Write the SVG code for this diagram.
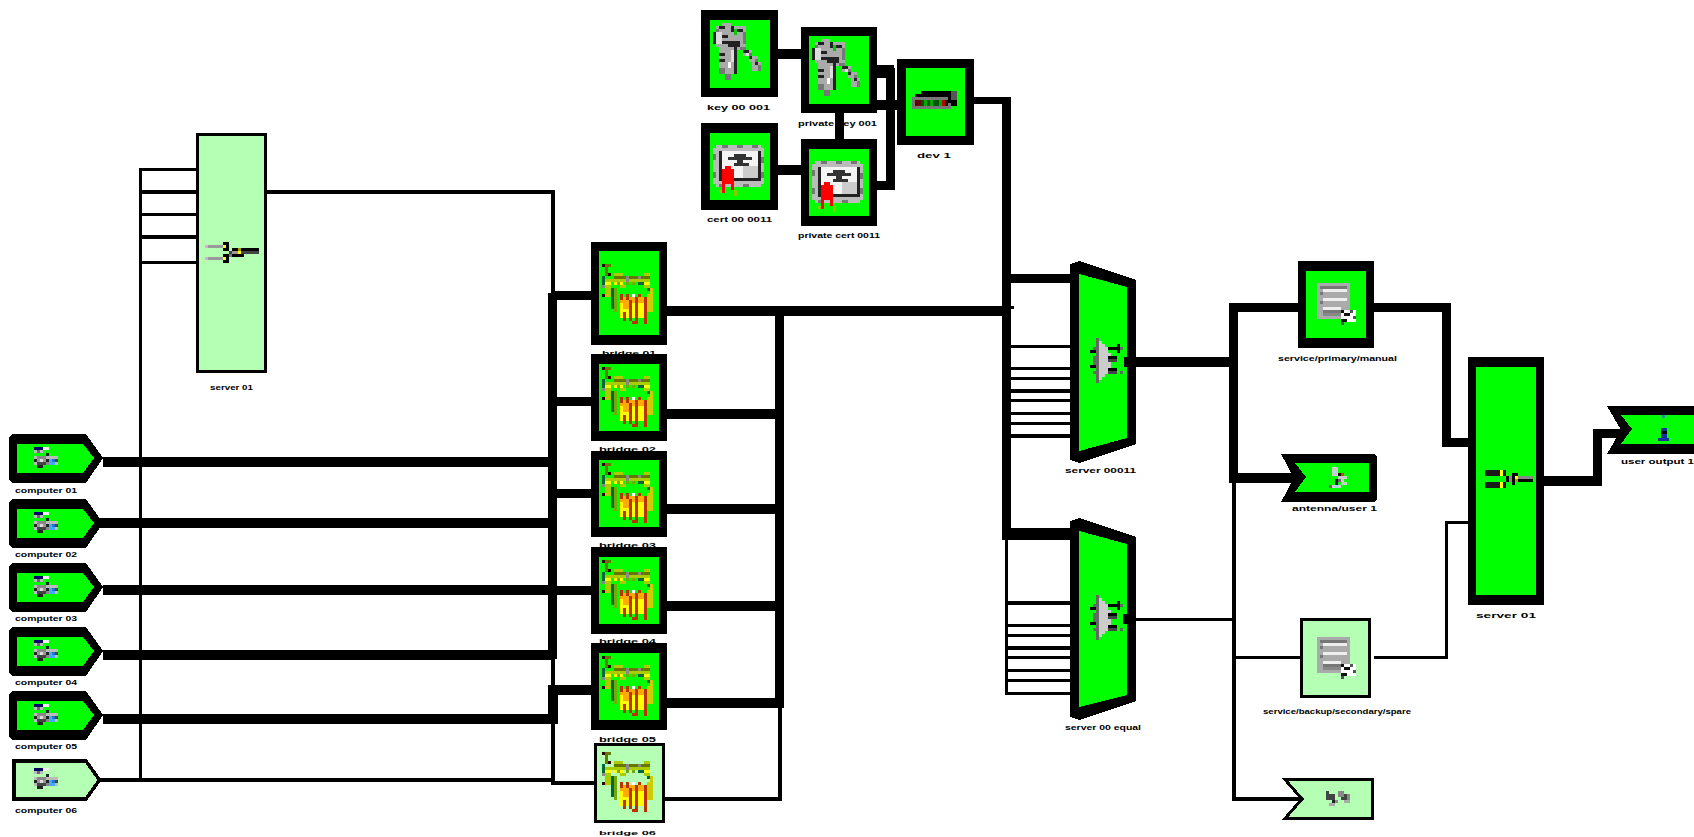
<svg xmlns="http://www.w3.org/2000/svg" width="1694" height="837" viewBox="0 0 1694 837">
<style>
svg{shape-rendering:crispEdges}
.k{fill:#000}.g{fill:#0f0}.l{fill:#b4ffb4;stroke:#000}
.c path{fill:none;stroke:#000;stroke-linejoin:miter}
.w10{stroke-width:10}.w9{stroke-width:9}.w4{stroke-width:4}.w3{stroke-width:3}
text{font-family:"Liberation Sans",Arial,sans-serif;font-weight:700;font-size:8px;fill:#000}
</style>
<defs>
<g id="pent"><polygon class="k" points="9,437 12,434 86,434 103,458 86,483 12,483 9,480"/><polygon class="g" points="17,444 83,444 94,458 83,473 17,473"/></g>
<g id="icCam"><g transform="scale(3)">
<path fill="#006" d="M0 0h3v1H0z"/><path fill="#eee" d="M3 0h2v1H3z"/><path fill="#bbb" d="M0 1h1v1H0zM2 1h1v1H2zM0 3h8v1H0zM0 5h1v1H0zM7 4h1v2H7z"/><path fill="#667" d="M1 1h1v1H1z"/>
<path fill="#222" d="M4 2h1v1H4zM0 4h1v1H0zM4 4h1v1H4zM1 6h2v1H1z"/><path fill="#888" d="M1 3h3v1H1zM4 5h1v1H4z"/><path fill="#ddd" d="M2 4h1v1H2z"/><path fill="#999" d="M1 4h1v1H1zM3 4h1v1H3z"/><path fill="#444" d="M1 5h3v1H1zM7 4h1v1H7z"/><path fill="#4af" d="M5 4h2v2H5z"/><path fill="#27c" d="M6 4h1v1H6z"/>
</g></g>
<g id="icBridge"><g transform="scale(3)">
<path fill="#300" d="M0 0h1v1H0zM2 3h1v1H2zM0 10h1v1H0z"/><path fill="#670" d="M1 0h2v1H1zM1 1h1v3H1zM4 4h12v1H4z"/><path fill="#ac0" d="M4 3h3v1H4zM14 3h2v1h-2zM1 5h15v1H1zM1 7h2v4H1zM6 7h2v1H6zM14 7h2v1h-2z"/><path fill="#ff0" d="M1 6h2v1H1zM4 6h3v1H4zM14 6h2v1h-2z"/><path fill="#064" d="M0 4h1v3H0zM3 8h1v7H3zM15 8h1v1h-1zM12 6h2v1h-2z"/><path fill="#888" d="M0 7h1v1H0zM8 4h1v2H8zM12 4h1v1h-1z"/><path fill="#7a0" d="M4 8h1v8H4zM5 6h1v1H5zM8 6h1v1H8zM10 6h1v1h-1z"/>
<path fill="#cc0" d="M16 8h1v8h-1zM15 10h1v6h-1z"/><path fill="#ff0" d="M6 11h8v7H6zM7 18h1v1H7z"/><path fill="#fa0" d="M6 11h8v2H6zM7 13h2v2H7z"/><path fill="#b30" d="M6 10h1v2H6zM8 10h1v2H8zM7 16h1v3H7zM9 12h1v7H9zM11 11h1v9h-1zM10 19h1v1h-1zM14 11h1v9h-1zM12 10h1v1h-1z"/><path fill="#fff" d="M10 10h1v1h-1z"/>
</g></g>
<g id="icForkL"><g transform="scale(3)">
<path fill="#e8a0e8" d="M0 1h1v1H0zM0 5h1v1H0z"/><path fill="#999" d="M1 1h5v1H1zM1 5h5v1H1zM9 3h2v1H9z"/><path fill="#000" d="M6 0h2v1H6zM7 1h1v2H7zM6 2h2v1H6zM6 4h2v1H6zM7 5h1v2H7zM6 6h2v1H6zM9 2h9v1H9zM9 4h4v1H9z"/><path fill="#ff0" d="M6 1h1v1H6zM6 5h1v1H6zM11 3h1v1h-1z"/><path fill="#a90" d="M11 2h1v1h-1z"/><path fill="#444" d="M12 3h6v1h-6zM8 3h1v1H8z"/><path fill="#777" d="M8 4h1v1H8z"/>
</g></g>
<g id="icForkG"><g transform="scale(3)">
<path fill="#1a1a1a" d="M0 0h5v2H0zM0 4h5v2H0zM6 0h1v2H6zM6 4h1v2H6z"/><path fill="#ff0" d="M5 0h1v2H5zM5 4h1v2H5z"/><path fill="#000" d="M7 2h1v2H7zM9 1h2v1H9zM9 2h1v3H9zM11 3h5v1h-5z"/><path fill="#888" d="M8 2h1v2H8zM11 2h5v1h-5z"/><path fill="#ff0" d="M10 2h1v1h-1z"/><path fill="#a90" d="M10 3h1v1h-1z"/>
</g></g>
<g id="icKey"><g transform="scale(3)">
<path fill="#aaa" d="M3 0h3v1H3zM1 1h10v7H1zM2 8h6v9H2zM8 7h3v2H8zM10 9h3v2h-3zM12 11h3v2h-3zM13 13h3v3h-3z"/><path fill="#777" d="M1 2h1v4H1zM10 3h1v4h-1zM9 8h2v1H9zM12 10h1v1h-1zM14 12h1v1h-1zM15 14h1v2h-1zM2 15h2v2H2zM4 17h2v2H4z"/><path fill="#222" d="M0 3h1v4H0zM2 1h2v1H2zM6 1h1v2H6zM8 2h2v1H8zM3 4h2v1H3zM5 6h4v2H5zM7 8h1v9H7zM3 6h2v1H3zM2 12h2v1H2zM2 10h2v1H2zM10 9h2v1h-2zM12 11h1v1h-1zM14 13h1v1h-1z"/><path fill="#ddd" d="M1 3h2v4H1zM6 9h1v4H6zM11 10h1v1h-1z"/><path fill="#0c0" d="M7 2h1v2H7z"/><path fill="#fff" d="M5 13h1v2H5z"/>
</g></g>
<g id="icCert"><g transform="scale(3)">
<path fill="#bbb" d="M1 0h15v14H1zM0 1h17v12H0z"/><path fill="#777" d="M3 0h2v1H3zM8 0h2v1H8zM13 0h2v1h-2zM0 3h1v2H0zM16 4h1v2h-1zM0 9h1v2H0zM16 9h1v2h-1zM10 13h2v1h-2zM2 13h2v1H2z"/><path fill="#222" d="M2 2h14v10H2z"/><path fill="#f4f4f4" d="M3 2h12v9H3z"/><path fill="#ccc" d="M10 7h5v4h-5z"/><path fill="#333" d="M7 3h4v1H7zM5 4h8v1H5zM8 5h2v2H8zM7 6h5v1H7z"/><path fill="#f00" d="M4 7h2v1H4zM3 8h4v5H3zM3 13h1v3H3zM6 13h1v2H6z"/><path fill="#8c0" d="M2 15h1v1H2zM7 15h1v2H7z"/>
</g></g>
<g id="icDev"><g transform="scale(3)">
<path fill="#000" d="M3 0h11v3H3zM12 3h3v2h-3zM1 1h2v1H1z"/><path fill="#555" d="M13 0h2v3h-2z"/><path fill="#777" d="M0 2h12v1H0zM0 3h1v3H0zM0 5h12v1H0zM12 4h1v2h-1z"/><path fill="#600" d="M1 3h2v2H1z"/><path fill="#050" d="M3 3h1v2H3zM5 3h1v2H5zM7 3h2v2H7z"/><path fill="#0a0" d="M4 3h1v2H4zM6 3h1v2H6zM9 3h1v2H9z"/><path fill="#b00" d="M10 3h1v2h-1z"/><path fill="#111" d="M11 3h1v2h-1z"/>
</g></g>
<g id="icMux"><g transform="scale(3)">
<path fill="#666" d="M2 0h1v15H2zM1 3h1v1H1zM1 6h1v3H1zM1 11h1v1H1z"/><path fill="#ccc" d="M3 1h1v13H3zM4 2h1v11H4zM5 3h1v9H5zM6 5h1v5H6z"/><path fill="#000" d="M0 4h2v1H0zM0 9h2v1H0zM6 3h3v1H6zM9 2h1v3H9zM6 6h3v1H6zM6 10h3v1H6z"/><path fill="#444" d="M6 7h3v1H6zM6 11h3v1H6z"/><path fill="#666" d="M10 3h1v1h-1zM10 11h1v1h-1z"/>
</g></g>
<g id="icDoc"><g transform="scale(3)">
<path fill="#aaa" d="M0 0h11v12H0z"/><path fill="#777" d="M1 1h9v1H1zM1 3h1v1H1zM1 6h1v1H1zM2 9h6v2H2z"/><path fill="#eee" d="M2 2h8v1H2zM2 5h8v1H2zM2 8h6v1H2z"/><path fill="#888" d="M2 10h6v1H2z"/><path fill="#fff" d="M8 9h5v3H8zM9 12h4v1H9z"/><path fill="#111" d="M8 9h1v1H8zM9 10h2v1H9zM8 12h2v1H8z"/><path fill="#555" d="M11 9h1v1h-1zM12 11h1v1h-1zM8 13h1v1H8z"/>
</g></g>
<g id="icAnt"><g transform="scale(3)">
<path fill="#ccc" d="M1 0h2v2H1zM1 2h3v1H1zM3 3h3v1H3zM3 4h2v1H3zM4 5h2v1H4zM1 6h3v1H1z"/><path fill="#111" d="M3 2h1v1H3zM2 4h1v2H2z"/><path fill="#c40" d="M4 2h1v1H4z"/><path fill="#666" d="M3 4h1v1H3zM0 6h1v1H0z"/><path fill="#8df" d="M2 6h1v1H2z"/>
</g></g>
<g id="icSmall"><g transform="scale(3)">
<path fill="#444" d="M0 0h1v3H0zM1 1h2v2H1zM5 1h2v2H5z"/><path fill="#888" d="M4 0h2v2H4zM7 1h1v2H7zM3 3h1v1H3z"/><path fill="#aaa" d="M1 4h2v1H1zM6 3h2v1H6z"/><path fill="#222" d="M2 3h1v1H2z"/>
</g></g>
<g id="icUser"><path fill="#38a" d="M4 0h3v3H4z"/><path fill="#139" d="M3 13h6v3H3zM3 19h6v4H3zM0 23h11v3H0z"/><path d="M3 16h6v3H3z"/></g>
</defs>

<g id="connectors" class="c">
<path class="w10" d="M103 462H553M100 523H553M103 590H553M103 654.5H553M103 719H552.5V690H591"/>
<path class="w9" d="M552.5 293V659M552.5 295H591M552.5 401H591M552.5 493H591M552.5 590H591"/>
<path class="w4" d="M267 192H552.5V295M552.5 655V690M552.5 720V782.5H594M100 779.5H552.5"/>
<path class="w3" d="M196 169.5H140.5V781"/>
<path class="w4" d="M140 192H196M140 237H196"/>
<path class="w3" d="M140 214.5H196M140 262.5H196"/>
<path class="w10" d="M667 311H1002M667 413.5H779.5M667 509H779.5M667 606H779.5M667 702.5H784"/>
<path class="w9" d="M779.5 311V707"/>
<path class="w4" d="M665 799H780V703"/>
<path class="w10" d="M778 54H801M778 169.5H801"/>
<path class="w9" d="M839 113V139M877 185.5H894M890 68V190M1006.5 97V535M1233.5 303V479M1446.5 303V447"/>
<path class="w10" d="M877 105H897"/>
<path style="stroke-width:13" d="M877 71.5H894"/>
<path style="stroke-width:7" d="M974 100.5H1011"/>
<path class="w9" d="M1002 278.5H1070M1229 307.5H1298M1374 307.5H1451M1446 442.5H1468"/>
<path style="stroke-width:12" d="M1002 534H1070"/>
<path class="w3" d="M1002 307.5H1014M1011 346.5H1070M1011 368.5H1070M1011 378.5H1070M1011 400.5H1070M1011 413.5H1070M1011 423.5H1070"/>
<path class="w4" d="M1011 391H1070M1011 436H1070"/>
<path class="w3" d="M1006.5 534V695M1005 693.5H1070M1005 625.5H1070M1005 635.5H1070M1005 657.5H1070M1005 670.5H1070M1005 680.5H1070"/>
<path class="w4" d="M1005 603H1070M1005 648H1070"/>
<path class="w10" d="M1124 362H1233M1229 478H1300"/>
<path class="w3" d="M1124 619.5H1236M1234 657.5H1300M1374 657.5H1446.5V522.5H1468"/>
<path class="w4" d="M1234 483V799H1300"/>
<path class="w10" d="M1544 481H1597"/>
<path class="w9" d="M1597 486V433H1630"/>
</g>

<g id="n-input-1"><use href="#pent"/><use href="#icCam" x="34" y="447"/><text x="15" y="493" textLength="62" lengthAdjust="spacingAndGlyphs">computer 01</text></g>
<g id="n-input-2"><use href="#pent" y="65"/><use href="#icCam" x="34" y="512"/><text x="15" y="557" textLength="62" lengthAdjust="spacingAndGlyphs">computer 02</text></g>
<g id="n-input-3"><use href="#pent" y="129"/><use href="#icCam" x="34" y="576"/><text x="15" y="621" textLength="62" lengthAdjust="spacingAndGlyphs">computer 03</text></g>
<g id="n-input-4"><use href="#pent" y="193"/><use href="#icCam" x="34" y="640"/><text x="15" y="685" textLength="62" lengthAdjust="spacingAndGlyphs">computer 04</text></g>
<g id="n-input-5"><use href="#pent" y="257"/><use href="#icCam" x="34" y="704"/><text x="15" y="749" textLength="62" lengthAdjust="spacingAndGlyphs">computer 05</text></g>
<g id="n-input-6"><polygon class="l" stroke-width="3.5" points="14,761 86,761 99.500,780 86,799 14,799"/><use href="#icCam" x="34" y="768"/><text x="15" y="813" textLength="62" lengthAdjust="spacingAndGlyphs">computer 06</text></g>

<g id="n-merge-a"><rect class="l" x="197.500" y="134.500" width="68" height="237" stroke-width="3"/><use href="#icForkL" x="205" y="242"/><text x="210" y="390" textLength="43" lengthAdjust="spacingAndGlyphs">server 01</text></g>

<g id="n-b1"><text x="602" y="356" textLength="54" lengthAdjust="spacingAndGlyphs">bridge 01</text><rect class="k" x="591" y="242" width="76" height="103"/><rect class="g" x="599" y="251" width="60" height="84"/><use href="#icBridge" x="602" y="264"/></g>
<g id="n-b2"><text x="599" y="452" textLength="57" lengthAdjust="spacingAndGlyphs">bridge 02</text><rect class="k" x="591" y="354" width="76" height="87"/><rect class="g" x="599" y="364" width="60" height="67"/><use href="#icBridge" x="602" y="367"/></g>
<g id="n-b3"><text x="599" y="548" textLength="57" lengthAdjust="spacingAndGlyphs">bridge 03</text><rect class="k" x="591" y="451" width="76" height="86"/><rect class="g" x="599" y="460" width="60" height="67"/><use href="#icBridge" x="602" y="463"/></g>
<g id="n-b4"><text x="599" y="644" textLength="57" lengthAdjust="spacingAndGlyphs">bridge 04</text><rect class="k" x="591" y="547" width="76" height="87"/><rect class="g" x="599" y="557" width="60" height="67"/><use href="#icBridge" x="602" y="560"/></g>
<g id="n-b5"><text x="599" y="742" textLength="57" lengthAdjust="spacingAndGlyphs">bridge 05</text><rect class="k" x="591" y="643" width="76" height="87"/><rect class="g" x="599" y="653" width="60" height="67"/><use href="#icBridge" x="602" y="656"/></g>
<g id="n-b6"><rect class="l" x="595.500" y="744.500" width="68" height="77" stroke-width="3"/><use href="#icBridge" x="602" y="752"/><text x="599" y="835" textLength="57" lengthAdjust="spacingAndGlyphs" style="font-size:6px">bridge 06</text></g>

<g id="n-key-1"><rect class="k" x="701" y="10" width="77" height="87"/><rect class="g" x="710" y="20" width="60" height="68"/><use href="#icKey" x="713" y="23"/><text x="707" y="110" textLength="63" lengthAdjust="spacingAndGlyphs">key 00 001</text></g>
<g id="n-key-2"><rect class="k" x="801" y="27" width="76" height="86"/><rect class="g" x="809" y="36" width="60" height="68"/><use href="#icKey" x="812" y="39"/><text x="798" y="126" textLength="79" lengthAdjust="spacingAndGlyphs">private key 001</text></g>
<g id="n-cert-1"><rect class="k" x="701" y="123" width="77" height="87"/><rect class="g" x="710" y="133" width="60" height="67"/><use href="#icCert" x="713" y="145"/><text x="707" y="222" textLength="65" lengthAdjust="spacingAndGlyphs">cert 00 0011</text></g>
<g id="n-cert-2"><rect class="k" x="801" y="139" width="76" height="87"/><rect class="g" x="809" y="149" width="60" height="67"/><use href="#icCert" x="812" y="161"/><text x="798" y="238" textLength="82" lengthAdjust="spacingAndGlyphs">private cert 0011</text></g>
<g id="n-device"><rect class="k" x="897" y="59" width="77" height="86"/><rect class="g" x="906" y="68" width="59" height="68"/><use href="#icDev" x="912" y="91"/><text x="917" y="158" textLength="34" lengthAdjust="spacingAndGlyphs">dev 1</text></g>

<g id="n-mux-1"><polygon class="k" points="1070,264 1079,261 1136,280 1136,444 1079,463 1070,460"/><polygon class="g" points="1079,274 1127,287 1127,438 1079,451"/><path d="M1124 357h4v10h-4z"/><use href="#icMux" x="1090" y="338"/><text x="1065" y="473" textLength="71" lengthAdjust="spacingAndGlyphs">server 00011</text></g>
<g id="n-mux-2"><polygon class="k" points="1070,521 1079,518 1136,537 1136,701 1079,720 1070,717"/><polygon class="g" points="1079,531 1127,544 1127,695 1079,707"/><path d="M1123 614h5v10h-5z"/><use href="#icMux" x="1090" y="595"/><text x="1065" y="730" textLength="76" lengthAdjust="spacingAndGlyphs">server 00 equal</text></g>

<g id="n-doc-1"><rect class="k" x="1298" y="261" width="76" height="87"/><rect class="g" x="1306" y="271" width="60" height="67"/><use href="#icDoc" x="1317" y="283"/><text x="1278" y="361" textLength="119" lengthAdjust="spacingAndGlyphs">service/primary/manual</text></g>
<g id="n-flag-1"><polygon class="k" points="1281,454 1374,454 1377,457 1377,499 1374,502 1281,502 1294,478"/><polygon class="g" points="1295,463 1369,463 1369,492 1295,492 1306,477"/><use href="#icAnt" x="1329" y="467"/><text x="1292" y="511" textLength="85" lengthAdjust="spacingAndGlyphs">antenna/user 1</text></g>
<g id="n-doc-2"><rect class="l" x="1301.500" y="619.500" width="68" height="77" stroke-width="3"/><use href="#icDoc" x="1317" y="637"/><text x="1263" y="714" textLength="148" lengthAdjust="spacingAndGlyphs">service/backup/secondary/spare</text></g>
<g id="n-flag-2"><polygon class="l" stroke-width="3" points="1285,779.500 1372.500,779.500 1372.500,818.500 1285,818.500 1302,799"/><use href="#icSmall" x="1326" y="791"/></g>
<g id="n-merge-b"><rect class="k" x="1468" y="357" width="76" height="248"/><rect class="g" x="1476" y="367" width="60" height="228"/><use href="#icForkG" x="1485" y="470"/><text x="1476" y="618" textLength="60" lengthAdjust="spacingAndGlyphs">server 01</text></g>
<g id="n-out"><polygon class="k" points="1607,406 1694,406 1694,454 1607,454 1621,430"/><polygon class="g" points="1621,415 1694,415 1694,444 1621,444 1632,429"/><use href="#icUser" x="1658" y="415"/><text x="1621" y="464" textLength="73" lengthAdjust="spacingAndGlyphs">user output 1</text></g>
</svg>
